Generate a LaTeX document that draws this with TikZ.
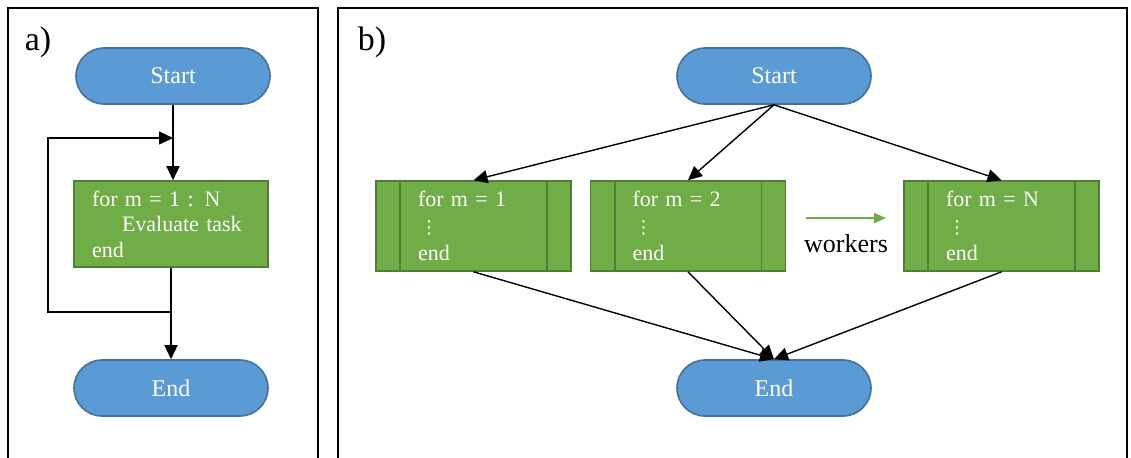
\documentclass[tikz,border=0pt]{standalone}
\usepackage{fontspec}
\setmainfont{Liberation Serif}
\newfontfamily\dotsfont{DejaVu Sans}
\usetikzlibrary{arrows.meta}

\definecolor{termfill}{HTML}{5B9BD5}
\definecolor{termline}{HTML}{41719C}
\definecolor{taskfill}{HTML}{70AD47}
\definecolor{taskline}{HTML}{507E32}

\newcommand{\taskdots}{\hspace*{1pt}{\dotsfont\fontsize{9}{9}\selectfont ⋮}}

\tikzset{
  terminal/.style={draw=termline, fill=termfill, line width=0.8pt,
    rounded corners=14pt, minimum width=97pt, minimum height=28pt,
    text=white, font=\fontsize{12}{14}\selectfont},
  loopbox/.style={draw=taskline, fill=taskfill, line width=0.8pt,
    minimum width=97pt, minimum height=43pt, inner xsep=9pt, text width=79pt,
    align=left, text=white, font=\fontsize{11}{12.8}\selectfont},
  workbox/.style={draw=taskline, fill=taskfill, line width=0.8pt,
    minimum width=97.5pt, minimum height=45pt, inner xsep=21pt, text width=55.5pt,
    align=left, text=white, font=\fontsize{11}{13.5}\selectfont},
  flow/.style={-{Triangle[width=6.5pt,length=7pt]}, line width=0.7pt},
  panel/.style={line width=1pt},
  tag/.style={font=\fontsize{17}{19}\selectfont}
}

\begin{document}
\begin{tikzpicture}[x=0.5pt, y=-0.5pt]

   \useasboundingbox (0,0) rectangle (1131,457);

   \def\ya{76}; % terminals top row
   \def\yt{226}; % task row
   \def\ye{388}; % terminals bottom row

   % panel frames
   \draw[panel] (8,470) -- (8,8) -- (318,8) -- (318,470);
   \draw[panel] (338,470) -- (338,8) -- (1127,8) -- (1127,470);
   \node[tag] (tagA) at (38,42) {a)};
   \node[tag] (tagB) at (372,42) {b)};

   % a) serial loop
   \node[terminal] (startA) at (173,\ya) {Start};
   \node[loopbox] (loopA) at (171,224) {for m = 1 : N\\\hspace*{15pt}Evaluate task\\end};
   \node[terminal] (endA) at (171,\ye) {End};

   \coordinate (joinA) at (173,138);
   \coordinate (splitA) at (171,312);

   \draw[flow] (startA.south) -- (startA.south |- loopA.north);
   \draw[flow] (loopA.south) -- (endA.north);
   \draw[flow] (splitA) -- ++(-123,0) |- (joinA);

   % b) parallel workers
   \node[terminal] (startB) at (774,\ya) {Start};
   \node[workbox] (work1) at (473.5,\yt) {for m = 1\\\taskdots\\end};
   \node[workbox] (work2) at (688,\yt) {for m = 2\\\taskdots\\end};
   \node[workbox] (workN) at (1001.5,\yt) {for m = N\\\taskdots\\end};
   \node[terminal] (endB) at (774,\ye) {End};

   \foreach \w in {work1, work2, workN} {
     \draw[taskline, line width=0.8pt] ([xshift=12.5pt]\w.north west) -- ([xshift=12.5pt]\w.south west);
     \draw[taskline, line width=0.8pt] ([xshift=-12.5pt]\w.north east) -- ([xshift=-12.5pt]\w.south east);
     \draw[flow] (startB.south) -- (\w.north);
     \draw[flow] (\w.south) -- (endB.north);
   }

   \coordinate (wkTail) at (806,218);
   \coordinate (wkHead) at (886,218);
   \draw[taskfill, line width=0.7pt, -{Triangle[width=5pt,length=6pt]}] (wkTail) -- (wkHead);
   \node[font=\fontsize{13}{15}\selectfont] (workers) at (846,244) {workers};

\end{tikzpicture}
\end{document}
